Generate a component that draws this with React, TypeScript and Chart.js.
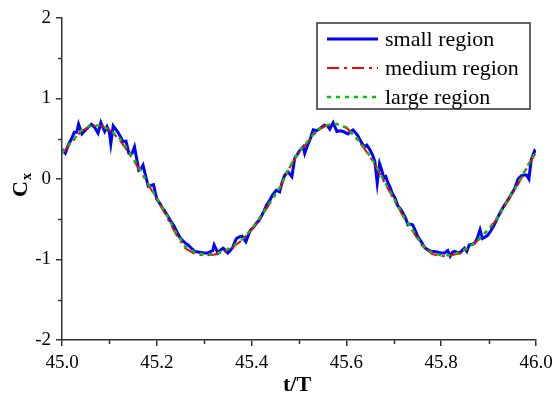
import { useEffect, useRef } from "react";
import { Chart, registerables } from "chart.js";

Chart.register(...registerables);

// ---- data ----
const smoothT = [
  45.0, 45.02, 45.04, 45.06, 45.08, 45.1, 45.12, 45.14, 45.16, 45.18,
  45.2, 45.22, 45.24, 45.26, 45.28, 45.3, 45.32, 45.34, 45.36, 45.38,
  45.4, 45.42, 45.44, 45.46, 45.48, 45.5, 45.52, 45.54, 45.56, 45.58,
  45.6, 45.62, 45.64, 45.66, 45.68, 45.7, 45.72, 45.74, 45.76, 45.78,
  45.8, 45.82, 45.84, 45.86, 45.88, 45.9, 45.92, 45.94, 45.96, 45.98, 46.0,
];

const mediumY = [
  0.32, 0.45, 0.59, 0.66, 0.67, 0.61, 0.5, 0.33, 0.15, -0.05,
  -0.25, -0.46, -0.68, -0.86, -0.93, -0.95, -0.94, -0.91, -0.85, -0.76,
  -0.63, -0.47, -0.29, -0.11, 0.14, 0.33, 0.47, 0.61, 0.67, 0.68,
  0.64, 0.51, 0.36, 0.18, -0.04, -0.25, -0.47, -0.65, -0.83, -0.93,
  -0.96, -0.95, -0.92, -0.85, -0.75, -0.63, -0.48, -0.28, -0.09, 0.13, 0.33,
];

const largeY = [
  0.33, 0.46, 0.6, 0.665, 0.665, 0.615, 0.515, 0.355, 0.165, -0.04,
  -0.24, -0.44, -0.66, -0.84, -0.91, -0.94, -0.935, -0.9, -0.84, -0.75,
  -0.62, -0.46, -0.28, -0.1, 0.15, 0.34, 0.48, 0.615, 0.67, 0.685,
  0.635, 0.52, 0.37, 0.19, -0.03, -0.24, -0.46, -0.64, -0.82, -0.915,
  -0.95, -0.945, -0.91, -0.84, -0.745, -0.62, -0.47, -0.27, -0.08, 0.14, 0.34,
];

const smallT = [
  45.0, 45.007, 45.013, 45.02, 45.026, 45.031, 45.035, 45.042, 45.048, 45.055,
  45.062, 45.069, 45.076, 45.082, 45.09, 45.095, 45.1, 45.103, 45.108, 45.113,
  45.118, 45.124, 45.129, 45.135, 45.141, 45.148, 45.153, 45.162, 45.167, 45.171,
  45.178, 45.182, 45.188, 45.193, 45.2, 45.206, 45.212, 45.218, 45.224, 45.23,
  45.236, 45.242, 45.248, 45.255, 45.261, 45.266, 45.273, 45.28, 45.29, 45.3,
  45.308, 45.314, 45.318, 45.321, 45.325, 45.329, 45.335, 45.34, 45.345, 45.35,
  45.356, 45.36, 45.364, 45.368, 45.374, 45.38, 45.388, 45.393, 45.397, 45.404,
  45.41, 45.415, 45.42, 45.426, 45.432, 45.438, 45.444, 45.452, 45.459, 45.465,
  45.47, 45.477, 45.485, 45.491, 45.496, 45.501, 45.509, 45.512, 45.518, 45.524,
  45.53, 45.537, 45.545, 45.554, 45.56, 45.565, 45.572, 45.58, 45.587, 45.593,
  45.603, 45.609, 45.614, 45.62, 45.624, 45.631, 45.638, 45.643, 45.649, 45.655,
  45.66, 45.665, 45.67, 45.675, 45.679, 45.683, 45.687, 45.692, 45.697, 45.703,
  45.708, 45.714, 45.719, 45.725, 45.73, 45.735, 45.74, 45.746, 45.751, 45.758,
  45.765, 45.772, 45.779, 45.786, 45.793, 45.8, 45.807, 45.814, 45.819, 45.824,
  45.828, 45.833, 45.839, 45.844, 45.849, 45.854, 45.859, 45.865, 45.87, 45.876,
  45.882, 45.887, 45.893, 45.898, 45.905, 45.912, 45.919, 45.926, 45.933, 45.941,
  45.947, 45.955, 45.962, 45.969, 45.975, 45.98, 45.985, 45.99, 45.997, 46.0,
];

const smallY = [
  0.37, 0.32, 0.42, 0.5, 0.58, 0.58, 0.68, 0.56, 0.6, 0.64,
  0.68, 0.64, 0.57, 0.7, 0.59, 0.65, 0.58, 0.44, 0.66, 0.62,
  0.58, 0.52, 0.46, 0.47, 0.32, 0.32, 0.4, 0.11, 0.13, 0.17,
  0.0, -0.09, -0.08, -0.07, -0.25, -0.3, -0.36, -0.41, -0.47, -0.53,
  -0.58, -0.65, -0.72, -0.77, -0.8, -0.82, -0.86, -0.9, -0.91, -0.92,
  -0.92, -0.9, -0.89, -0.82, -0.87, -0.92, -0.88, -0.86, -0.89, -0.92,
  -0.88, -0.85, -0.79, -0.74, -0.72, -0.71, -0.78, -0.7, -0.64, -0.6,
  -0.55, -0.52, -0.47, -0.4, -0.32, -0.27, -0.2, -0.14, -0.16, -0.03,
  0.05, 0.09, 0.03, 0.26, 0.3, 0.35, 0.4, 0.32, 0.42, 0.5,
  0.61, 0.6, 0.63, 0.67, 0.66, 0.62, 0.7, 0.59, 0.6, 0.59,
  0.56, 0.59, 0.61, 0.57, 0.54, 0.46, 0.4, 0.42, 0.37, 0.3,
  0.22, -0.05, 0.19, 0.1, 0.01, 0.03, -0.04, -0.1, -0.18, -0.24,
  -0.33, -0.37, -0.42, -0.49, -0.57, -0.56, -0.57, -0.65, -0.72, -0.78,
  -0.85, -0.88, -0.9, -0.9, -0.91, -0.92, -0.92, -0.89, -0.96, -0.91,
  -0.9, -0.91, -0.92, -0.89, -0.86, -0.9, -0.82, -0.81, -0.8, -0.74,
  -0.63, -0.74, -0.72, -0.7, -0.64, -0.57, -0.48, -0.4, -0.33, -0.26,
  -0.2, -0.12, 0.0, 0.04, 0.05, 0.05, 0.0, 0.24, 0.35, 0.33,
];

const seriesLabels = ["small region", "medium region", "large region"];
const xMajorTicks = [45.0, 45.2, 45.4, 45.6, 45.8, 46.0];
const xMinorTicks = [45.1, 45.3, 45.5, 45.7, 45.9];
const yMajorTicks = [-2, -1, 0, 1, 2];
const yMinorTicks = [-1.5, -0.5, 0.5, 1.5];
const xTitle = "t/T";
const yTitleMain = "C";
const yTitleSub = "x";

// ---- style ----
const FONT = "'Liberation Serif', 'Times New Roman', serif";
const AXIS = "#333333";

const toPoints = (xs: number[], ys: number[]) => xs.map((x, i) => ({ x, y: ys[i] }));

const decorPlugin = {
  id: "decor",
  afterDraw(chart: any) {
    const { ctx, chartArea, scales } = chart;
    const { left, right, top, bottom } = chartArea;
    ctx.save();
    // minor ticks
    ctx.strokeStyle = AXIS;
    ctx.lineWidth = 1.5;
    ctx.beginPath();
    for (const v of xMinorTicks) {
      const px = Math.round(scales.x.getPixelForValue(v)) + 0.5;
      ctx.moveTo(px, bottom);
      ctx.lineTo(px, bottom + 4);
    }
    for (const v of yMinorTicks) {
      const py = Math.round(scales.y.getPixelForValue(v)) + 0.5;
      ctx.moveTo(left - 4, py);
      ctx.lineTo(left, py);
    }
    ctx.stroke();

    // axis titles
    ctx.fillStyle = "#000";
    ctx.textAlign = "center";
    ctx.textBaseline = "alphabetic";
    ctx.font = `bold 22px ${FONT}`;
    ctx.fillText(xTitle, (left + right) / 2 - 2, bottom + 51);

    ctx.save();
    ctx.translate(left - 35, (top + bottom) / 2 + 18);
    ctx.rotate(-Math.PI / 2);
    ctx.textAlign = "left";
    ctx.font = `bold 22px ${FONT}`;
    ctx.fillText(yTitleMain, 0, 0);
    const w = ctx.measureText(yTitleMain).width;
    ctx.font = `bold 14px ${FONT}`;
    ctx.fillText(yTitleSub, w + 1, 4);
    ctx.restore();

    // legend box
    const bw = 213;
    const bh = 86;
    const bx = right - 6 - bw;
    const by = top + 5;
    ctx.fillStyle = "#fff";
    ctx.fillRect(bx, by, bw, bh);
    ctx.strokeStyle = AXIS;
    ctx.lineWidth = 1.5;
    ctx.strokeRect(bx, by, bw, bh);
    chart.data.datasets.forEach((ds: any, i: number) => {
      const rowY = by + 16 + i * 29;
      ctx.save();
      ctx.strokeStyle = ds.borderColor;
      ctx.lineWidth = ds.borderWidth;
      ctx.setLineDash(ds.borderDash || []);
      ctx.beginPath();
      ctx.moveTo(bx + 10, rowY);
      ctx.lineTo(bx + 61, rowY);
      ctx.stroke();
      ctx.restore();
      ctx.fillStyle = "#000";
      ctx.font = `22px ${FONT}`;
      ctx.textAlign = "left";
      ctx.textBaseline = "middle";
      ctx.fillText(ds.label, bx + 68, rowY + 1);
    });
    ctx.restore();
  },
};

export default function App() {
  const ref = useRef<HTMLCanvasElement | null>(null);

  useEffect(() => {
    if (!ref.current) return;
    const chart = new Chart(ref.current, {
      type: "line",
      data: {
        datasets: [
          {
            label: seriesLabels[0],
            data: toPoints(smallT, smallY),
            borderColor: "#0000ff",
            borderWidth: 3,
            pointRadius: 0,
            tension: 0,
            order: 2,
          },
          {
            label: seriesLabels[1],
            data: toPoints(smoothT, mediumY),
            borderColor: "#ff0000",
            borderWidth: 2,
            borderDash: [12, 5, 3, 5],
            pointRadius: 0,
            tension: 0,
            order: 1,
          },
          {
            label: seriesLabels[2],
            data: toPoints(smoothT, largeY),
            borderColor: "#00c800",
            borderWidth: 2.5,
            borderDash: [4, 5],
            pointRadius: 0,
            tension: 0,
            order: 0,
          },
        ],
      },
      options: {
        animation: false,
        responsive: false,
        layout: { padding: { top: 18, right: 20, left: 0, bottom: 0 } },
        plugins: { legend: { display: false }, tooltip: { enabled: false } },
        scales: {
          x: {
            type: "linear",
            min: 45,
            max: 46,
            afterBuildTicks: (s: any) => {
              s.ticks = xMajorTicks.map((v) => ({ value: v }));
            },
            afterFit: (s: any) => {
              s.height = 53;
              s.paddingLeft = 0;
              s.paddingRight = 0;
            },
            grid: {
              display: true,
              drawOnChartArea: false,
              drawTicks: true,
              tickLength: 6,
              color: AXIS,
              lineWidth: 1.5,
            },
            border: { display: true, color: AXIS, width: 1.5 },
            ticks: {
              font: { family: FONT, size: 19 },
              color: "#000",
              padding: 6,
              maxRotation: 0,
              autoSkip: false,
              callback: (v: any) => Number(v).toFixed(1),
            },
          },
          y: {
            type: "linear",
            min: -2,
            max: 2,
            afterBuildTicks: (s: any) => {
              s.ticks = yMajorTicks.map((v) => ({ value: v }));
            },
            afterFit: (s: any) => {
              s.width = 62;
              s.paddingTop = 0;
              s.paddingBottom = 0;
            },
            grid: {
              display: true,
              drawOnChartArea: false,
              drawTicks: true,
              tickLength: 6,
              color: AXIS,
              lineWidth: 1.5,
            },
            border: { display: true, color: AXIS, width: 1.5 },
            ticks: {
              font: { family: FONT, size: 19 },
              color: "#000",
              padding: 5,
              autoSkip: false,
              callback: (v: any) => String(v),
            },
          },
        },
      },
      plugins: [decorPlugin],
    });
    return () => chart.destroy();
  }, []);

  return (
    <div style={{ position: "absolute", left: 0, top: 0, width: 556, height: 393, background: "#fff" }}>
      <canvas ref={ref} width={556} height={393} style={{ width: 556, height: 393 }} />
    </div>
  );
}
